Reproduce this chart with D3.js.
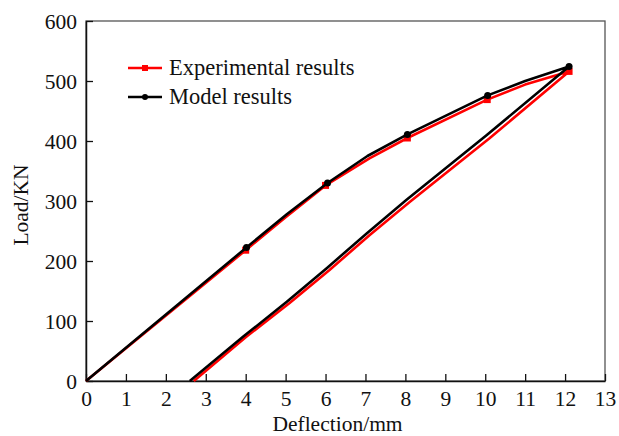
<!DOCTYPE html>
<html>
<head>
<meta charset="UTF-8" />
<title>Load-deflection</title>
<script src="https://d3js.org/d3.v7.min.js"></script>
<style>
  body { margin: 0; background: #fff; }
  svg text { font-family: "Liberation Serif", "Times New Roman", Times, "DejaVu Serif", serif !important; fill: #111; }
  .tick text { font-size: 21.5px; }
  .axis-title { font-size: 21.5px; }
  .legend text { font-size: 22.5px; }
</style>
</head>
<body>
<div id="plot"></div>
<script>
// loading + unloading paths (deflection mm, load kN)
var expX     = [0, 4, 5, 6, 7.1, 8.05, 10.05, 11, 12.1, 10.1, 8.1, 7.1, 6.1, 5.1, 4.0, 2.7];
var expLoad  = [0, 218, 273, 326, 371, 405, 469, 494, 516, 404, 298, 243, 185, 130, 73, 0];
var modelX    = [0, 4.02, 5.03, 6.05, 7.05, 8.05, 10.06, 11, 12.1, 10.04, 8.03, 7.03, 6.03, 5.03, 3.94, 2.6];
var modelLoad = [0, 222.5, 278, 330, 375, 411, 476, 500, 524, 410, 302, 246, 188, 132, 74, 0];
// indices with a marker
var markIdx = [1, 3, 5, 6, 8];

var xTicks = d3.range(0, 14, 1);
var yTicks = [0, 100, 200, 300, 400, 500, 600];

var W = 619, H = 436;
var margin = {top: 21, right: 14, bottom: 55, left: 86};
var width = W - margin.left - margin.right,
    height = H - margin.top - margin.bottom;

var x = d3.scaleLinear().domain([0, 13]).range([0, width]);
var y = d3.scaleLinear().domain([0, 600]).range([height, 0]);

var svg = d3.select("#plot").append("svg")
  .attr("width", W).attr("height", H)
  .append("g")
  .attr("transform", "translate(" + margin.left + "," + margin.top + ")");

// frame
svg.append("rect")
  .attr("width", width).attr("height", height)
  .attr("fill", "none").attr("stroke", "#555").attr("stroke-width", 1.3);

var xAxis = svg.append("g")
  .attr("transform", "translate(0," + height + ")")
  .call(d3.axisBottom(x).tickValues(xTicks).tickSizeInner(-7).tickSizeOuter(0).tickPadding(10));
var yAxis = svg.append("g")
  .call(d3.axisLeft(y).tickValues(yTicks).tickSizeInner(-7).tickSizeOuter(0).tickPadding(9));

[xAxis, yAxis].forEach(function(a) {
  a.attr("font-family", null).attr("font-size", null);
  a.select(".domain").attr("stroke", "#111").attr("stroke-width", 1.5);
  a.selectAll(".tick line").attr("stroke", "#111").attr("stroke-width", 1.3);
  a.selectAll(".tick text").attr("fill", "#111");
});
yAxis.selectAll(".tick text").attr("dy", "0.35em");

svg.append("text").attr("class", "axis-title")
  .attr("x", width / 2 - 8).attr("y", height + 50)
  .attr("text-anchor", "middle")
  .text("Deflection/mm");

svg.append("text").attr("class", "axis-title")
  .attr("transform", "translate(-58," + (height / 2 + 4) + ") rotate(-90)")
  .attr("text-anchor", "middle")
  .text("Load/KN");

function toPts(xs, ys) {
  return xs.map(function(d, i) { return [d, ys[i]]; });
}
var line = d3.line().x(function(d) { return x(d[0]); }).y(function(d) { return y(d[1]); });

var expPts = toPts(expX, expLoad);
var modelPts = toPts(modelX, modelLoad);

svg.append("path").datum(expPts)
  .attr("d", line).attr("fill", "none")
  .attr("stroke", "#ff0000").attr("stroke-width", 2.6).attr("stroke-linejoin", "round");

svg.append("g").selectAll("rect")
  .data(markIdx.map(function(i) { return expPts[i]; }))
  .enter().append("rect")
  .attr("x", function(d) { return x(d[0]) - 3.5; })
  .attr("y", function(d) { return y(d[1]) - 3.5; })
  .attr("width", 7).attr("height", 7)
  .attr("fill", "#ff0000");

svg.append("path").datum(modelPts)
  .attr("d", line).attr("fill", "none")
  .attr("stroke", "#000").attr("stroke-width", 2.6).attr("stroke-linejoin", "round");

svg.append("g").selectAll("circle")
  .data(markIdx.map(function(i) { return modelPts[i]; }))
  .enter().append("circle")
  .attr("cx", function(d) { return x(d[0]); })
  .attr("cy", function(d) { return y(d[1]); })
  .attr("r", 3.5)
  .attr("fill", "#000");

// legend
var legend = svg.append("g").attr("class", "legend");
var items = [
  {name: "Experimental results", color: "#ff0000", shape: "square"},
  {name: "Model results", color: "#000", shape: "circle"}
];
items.forEach(function(it, i) {
  var g = legend.append("g")
    .attr("transform", "translate(" + (128 - margin.left) + "," + (68 - margin.top + i * 29) + ")");
  g.append("line").attr("x1", 0).attr("x2", 34)
    .attr("stroke", it.color).attr("stroke-width", 2.6);
  if (it.shape === "square") {
    g.append("rect").attr("x", 14).attr("y", -3).attr("width", 6).attr("height", 6).attr("fill", it.color);
  } else {
    g.append("circle").attr("cx", 17).attr("r", 3).attr("fill", it.color);
  }
  g.append("text").attr("x", 41).attr("dy", "0.33em").text(it.name);
});
</script>
</body>
</html>
